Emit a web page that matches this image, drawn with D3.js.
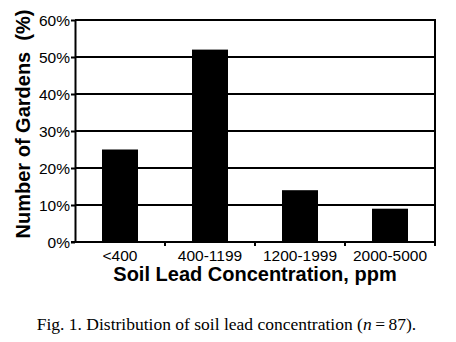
<!DOCTYPE html>
<html><head><meta charset="utf-8">
<script src="https://cdn.jsdelivr.net/npm/d3@7"></script>
<style>body{margin:0;background:#fff}svg{display:block}</style>
</head><body>
<svg id="c" width="456" height="342"></svg>
<script>
const categories = ["<400", "400-1199", "1200-1999", "2000-5000"];
const values = [25, 52, 14, 9];
const yTicks = [0, 10, 20, 30, 40, 50, 60];
const xTitle = "Soil Lead Concentration, ppm";
const yTitle = "Number of Gardens  (%)";

const svg = d3.select("#c");
const L = 75, R = 435, T = 20, B = 242;
const x = d3.scaleBand().domain(categories).range([L, R]).paddingInner(0.6).paddingOuter(0.3);
const y = d3.scaleLinear().domain([0, 60]).range([B, T]);
const sans = "Liberation Sans, Arial, Helvetica, sans-serif";

// gridlines
svg.append("g").selectAll("line").data(yTicks.filter(d => d > 0)).join("line")
  .attr("x1", L).attr("x2", R).attr("y1", d => y(d)).attr("y2", d => y(d))
  .attr("stroke", "#000").attr("stroke-width", 2);
// right border
svg.append("line").attr("x1", R).attr("x2", R).attr("y1", T - 1).attr("y2", B)
  .attr("stroke", "#000").attr("stroke-width", 2);

// bars
svg.append("g").selectAll("rect").data(values).join("rect")
  .attr("x", (d, i) => x(categories[i])).attr("width", x.bandwidth())
  .attr("y", d => y(d)).attr("height", d => B - y(d)).attr("fill", "#000");

// y axis
const yAxis = d3.axisLeft(y).tickValues(yTicks).tickFormat(d => d + "%").tickSize(4).tickSizeOuter(0);
const gy = svg.append("g").attr("transform", `translate(${L},0)`).call(yAxis);
gy.select(".domain").attr("stroke-width", 2);
gy.selectAll(".tick line").attr("stroke-width", 2);
gy.selectAll("text").attr("font-family", sans).attr("font-size", 15.5).attr("fill", "#000").attr("x", -5).attr("dy", "0.36em");

// x axis with ticks at band boundaries
const step = x.step();
const bounds = [L + step, L + 2 * step, L + 3 * step, R];
const gx = svg.append("g");
gx.append("line").attr("x1", L - 4).attr("x2", R + 1).attr("y1", B).attr("y2", B).attr("stroke", "#000").attr("stroke-width", 2);
gx.selectAll("line.t").data(bounds).join("line").attr("class", "t")
  .attr("x1", d => d).attr("x2", d => d).attr("y1", B).attr("y2", B + 4)
  .attr("stroke", "#000").attr("stroke-width", 2);
gx.selectAll("text").data(categories).join("text")
  .attr("x", d => x(d) + x.bandwidth() / 2).attr("y", 261)
  .attr("text-anchor", "middle").attr("font-family", sans)
  .attr("font-size", 15.5).text(d => d);

// axis titles
svg.append("text").attr("x", 255).attr("y", 281).attr("text-anchor", "middle")
  .attr("font-family", sans).attr("font-weight", "bold")
  .attr("font-size", 20).text(xTitle);
svg.append("text").attr("transform", "translate(30,124) rotate(-90)").attr("text-anchor", "middle")
  .attr("font-family", sans).attr("font-weight", "bold")
  .attr("font-size", 20).style("white-space", "pre").text(yTitle);

// caption
const cap = svg.append("text").attr("x", 226.5).attr("y", 330).attr("text-anchor", "middle")
  .attr("font-family", "Liberation Serif, Times New Roman, serif").attr("font-size", 17.5);
cap.append("tspan").text("Fig. 1. Distribution of soil lead concentration (");
cap.append("tspan").attr("font-style", "italic").text("n");
cap.append("tspan").text("\u2009=\u200987).");
</script>
</body></html>
